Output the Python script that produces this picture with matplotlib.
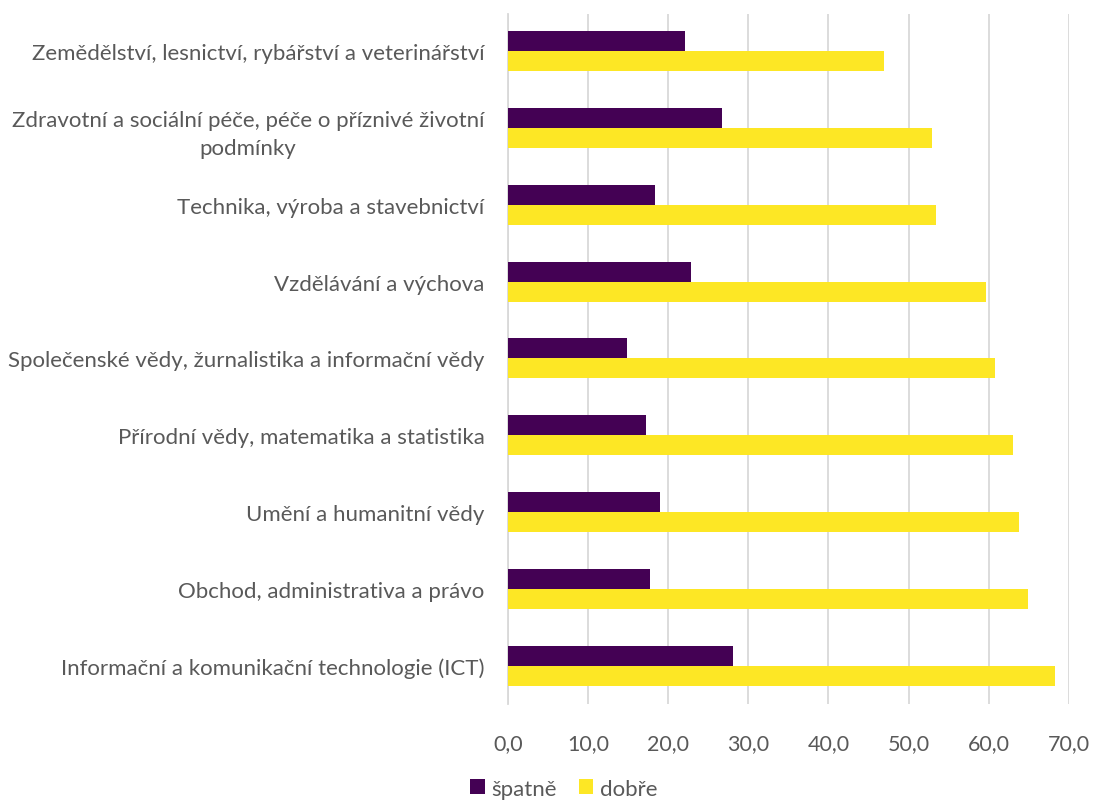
import matplotlib.pyplot as plt
import numpy as np

plt.rcParams['font.family'] = ['Lato', 'DejaVu Sans']

obory = ['Zemědělství, lesnictví, rybářství a veterinářství',
         'Zdravotní a sociální péče, péče o příznivé životní\npodmínky',
         'Technika, výroba a stavebnictví',
         'Vzdělávání a výchova',
         'Společenské vědy, žurnalistika a informační vědy',
         'Přírodní vědy, matematika a statistika',
         'Umění a humanitní vědy',
         'Obchod, administrativa a právo',
         'Informační a komunikační technologie (ICT)']
spatne = [22.1, 26.7, 18.4, 22.8, 14.9, 17.2, 19.0, 17.7, 28.1]
dobre = [46.9, 52.9, 53.4, 59.7, 60.8, 63.1, 63.8, 64.9, 68.3]
x_ticks = [0, 10, 20, 30, 40, 50, 60, 70]

fig = plt.figure(figsize=(10.95, 8.04), dpi=100)
ax = fig.add_axes([0.464, 0.123, 0.512, 0.858])

y = np.arange(len(obory))
h = 0.26
ax.barh(y - h / 2, spatne, height=h, color='#440154', label='špatně', zorder=3)
ax.barh(y + h / 2, dobre, height=h, color='#FDE725', label='dobře', zorder=3)

ax.set_ylim(len(obory) - 0.5, -0.48)
ax.set_xlim(0, 70)
ax.set_xticks(x_ticks)
ax.set_xticklabels([('%.1f' % v).replace('.', ',') for v in x_ticks])
ax.set_yticks(y)
ax.set_yticklabels(obory, multialignment='center', linespacing=1.5)

ax.grid(axis='x', color='#d9d9d9', linewidth=1.3, zorder=0)
for s in ['top', 'right', 'bottom']:
    ax.spines[s].set_visible(False)
ax.spines['left'].set_color('#d9d9d9')
ax.spines['left'].set_linewidth(1.3)
ax.tick_params(axis='both', length=0, labelsize=16, labelcolor='#595959')
ax.tick_params(axis='y', pad=17)
ax.tick_params(axis='x', pad=21, labelsize=15.5)

fig.legend(loc='center', bbox_to_anchor=(0.515, 0.018), ncol=2, frameon=False,
           fontsize=16, labelcolor='#595959', handlelength=0.65, handleheight=0.65,
           handletextpad=0.3, columnspacing=1.0)

plt.savefig('out.png', dpi=100)
